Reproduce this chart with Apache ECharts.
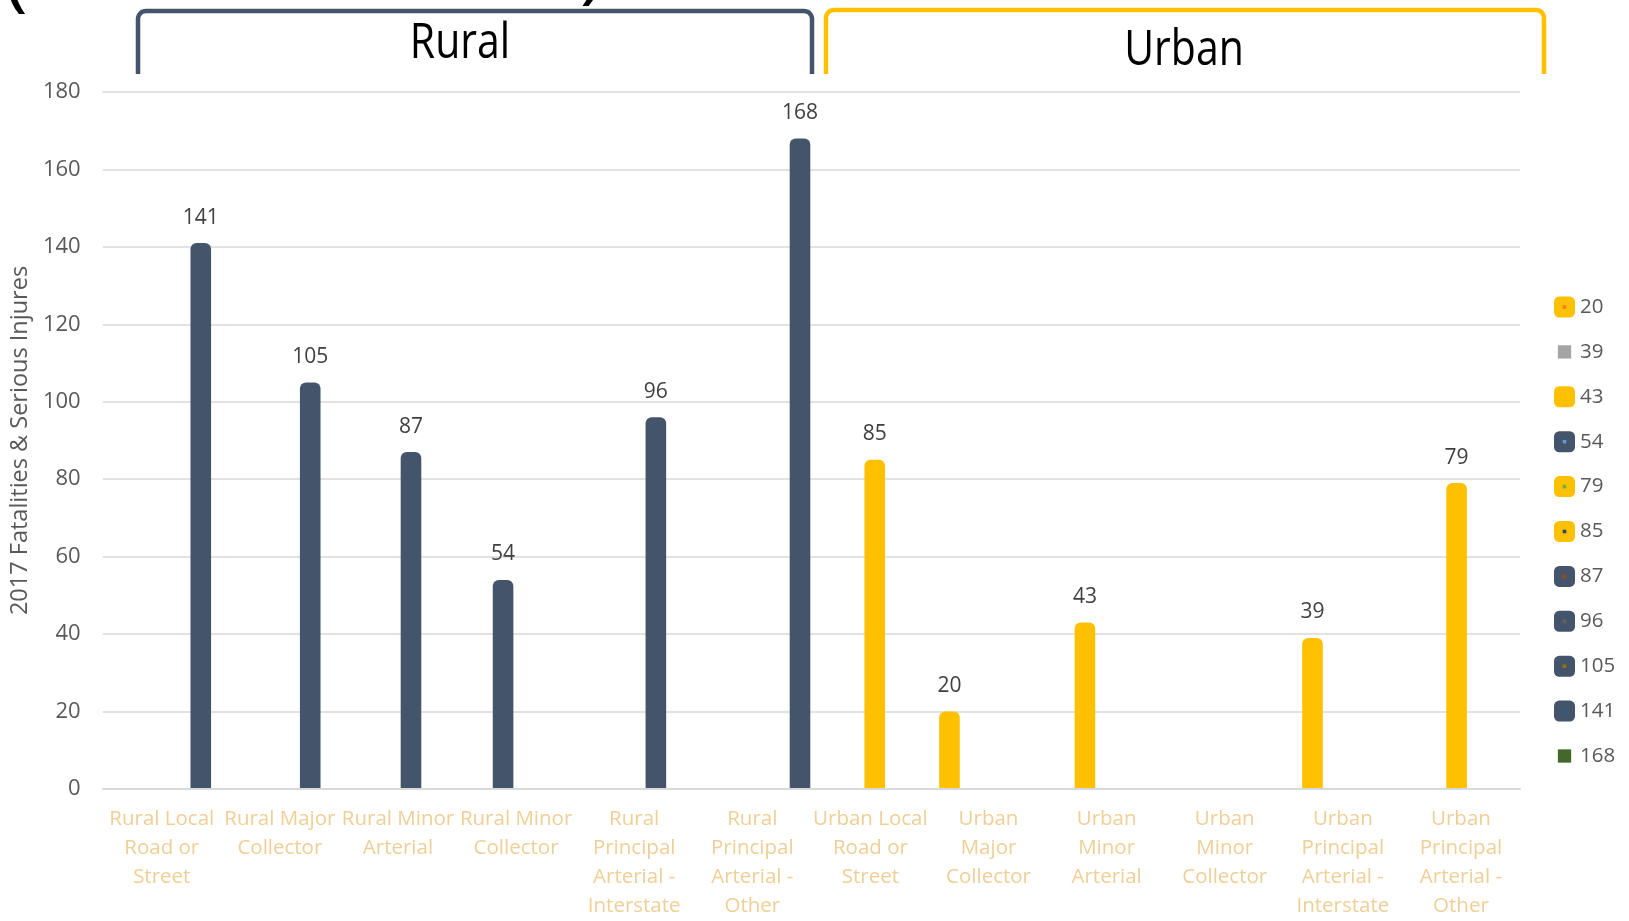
<!DOCTYPE html>
<html>
<head>
<meta charset="utf-8">
<script src="https://cdn.jsdelivr.net/npm/echarts@6/dist/echarts.min.js"></script>
<style>
  html, body { margin: 0; padding: 0; background: #ffffff; }
  #chart { width: 1629px; height: 921px; }
</style>
</head>
<body>
<div id="chart"></div>
<script>
// Road functional classes (x axis)
const categories = [
  'Rural Local Road or Street', 'Rural Major Collector', 'Rural Minor Arterial',
  'Rural Minor Collector', 'Rural Principal Arterial - Interstate', 'Rural Principal Arterial - Other',
  'Urban Local Road or Street', 'Urban Major Collector', 'Urban Minor Arterial',
  'Urban Minor Collector', 'Urban Principal Arterial - Interstate', 'Urban Principal Arterial - Other'
];
// Wrapped tick labels, one per category
const categoryLabels = [
  'Rural Local\nRoad or\nStreet', 'Rural Major\nCollector', 'Rural Minor\nArterial',
  'Rural Minor\nCollector', 'Rural\nPrincipal\nArterial -\nInterstate', 'Rural\nPrincipal\nArterial -\nOther',
  'Urban Local\nRoad or\nStreet', 'Urban\nMajor\nCollector', 'Urban\nMinor\nArterial',
  'Urban\nMinor\nCollector', 'Urban\nPrincipal\nArterial -\nInterstate', 'Urban\nPrincipal\nArterial -\nOther'
];
// Each series holds a single bar; series are named after their value
const seriesNames = ['20', '39', '43', '54', '79', '85', '87', '96', '105', '141', '168'];
const seriesValues = [20, 39, 43, 54, 79, 85, 87, 96, 105, 141, 168];
const seriesCategory = [
  'Urban Major Collector', 'Urban Principal Arterial - Interstate', 'Urban Minor Arterial',
  'Rural Minor Collector', 'Urban Principal Arterial - Other', 'Urban Local Road or Street',
  'Rural Minor Arterial', 'Rural Principal Arterial - Interstate', 'Rural Major Collector',
  'Rural Local Road or Street', 'Rural Principal Arterial - Other'
];
const yTicks = { min: 0, max: 180, interval: 20 };

const SLATE = '#44546A';
const GOLD = '#FFC000';
const FONT = "'Open Sans', sans-serif";
const barColors = [GOLD, GOLD, GOLD, SLATE, GOLD, GOLD, SLATE, SLATE, SLATE, SLATE, SLATE];
const legendIconColors = [GOLD, '#A5A5A5', GOLD, SLATE, GOLD, GOLD, SLATE, SLATE, SLATE, SLATE, '#43682B'];
const legendDotColors = ['#ED7D31', null, null, '#5B9BD5', '#70AD47', '#264478', '#9E480E', '#636363', '#997300', '#255E91', null];
const smallSquare = new Set(['39', '168']);

const BAR_W = 20.6;
const BAR_GAP = '-57.9%';

const chart = echarts.init(document.getElementById('chart'), null, { renderer: 'canvas' });

// Empty leading bar series keeps the Excel-style slot offsets inside each category
const series = [{
  name: 'slot0', type: 'bar', data: categories.map(() => null),
  barWidth: BAR_W, barGap: BAR_GAP, silent: true
}];
seriesNames.forEach((name, i) => {
  const c = barColors[i];
  series.push({
    name: name,
    type: 'bar',
    data: categories.map(cat => (cat === seriesCategory[i] ? seriesValues[i] : null)),
    barWidth: BAR_W,
    barGap: BAR_GAP,
    itemStyle: { color: c, borderRadius: [6, 6, 0, 0] },
    label: {
      show: true, position: 'top', distance: 15,
      color: '#404040', fontSize: 21, fontFamily: FONT
    },
    emphasis: { disabled: true }
  });
});

const ICON_BOX = 'M0,0M21,21';
const legendMain = seriesNames.map((name, i) => ({
  name: name,
  icon: smallSquare.has(name) ? 'path://' + ICON_BOX + 'M3.85,3.85h13.3v13.3h-13.3z' : 'roundRect',
  itemStyle: { color: legendIconColors[i], borderWidth: 0 }
}));
const legendDots = seriesNames.map((name, i) => ({
  name: name,
  icon: 'path://' + ICON_BOX + 'M8.7,8.7h3.6v3.6h-3.6z',
  itemStyle: { color: legendDotColors[i] || 'rgba(0,0,0,0)', borderWidth: 0 }
}));
const legendBase = {
  orient: 'vertical', left: 1549, top: 291.5,
  itemWidth: 21, itemHeight: 21, itemGap: 23.9,
  selectedMode: false,
  textStyle: { color: '#595959', fontSize: 20.5, fontFamily: FONT }
};

function bracketPoints(x1, x2, yTop, yBottom, r) {
  const pts = [[x1, yBottom]];
  for (let k = 0; k <= 8; k++) {
    const a = Math.PI + k * Math.PI / 16;
    pts.push([x1 + r + r * Math.cos(a), yTop + r + r * Math.sin(a)]);
  }
  for (let k = 0; k <= 8; k++) {
    const a = 1.5 * Math.PI + k * Math.PI / 16;
    pts.push([x2 - r + r * Math.cos(a), yTop + r + r * Math.sin(a)]);
  }
  pts.push([x2, yBottom]);
  return pts;
}

function titleText(text, x, y) {
  return {
    type: 'text', x: x, y: y, scaleY: 1.2,
    style: {
      text: text, x: 0, y: 0, fill: '#000000',
      font: "41px 'Open Sans', sans-serif",
      align: 'center', verticalAlign: 'middle',
      textAlign: 'center', textVerticalAlign: 'middle'
    }
  };
}

const option = {
  backgroundColor: '#ffffff',
  animation: false,
  textStyle: { fontFamily: FONT },
  grid: { left: 102.7, right: 109, top: 92, bottom: 130, containLabel: false },
  legend: [
    Object.assign({}, legendBase, { data: legendMain }),
    Object.assign({}, legendBase, { data: legendDots, textStyle: { color: 'rgba(0,0,0,0)', fontSize: 20.5, fontFamily: FONT }, z: 5 })
  ],
  xAxis: {
    type: 'category',
    data: categories,
    z: 5,
    axisLine: { show: true, lineStyle: { color: '#D9D9D9', width: 2 } },
    axisTick: { show: false },
    axisLabel: {
      interval: 0, margin: 16,
      color: '#EFCF96', fontSize: 20.5, lineHeight: 29, fontFamily: FONT,
      formatter: (v, idx) => categoryLabels[idx]
    }
  },
  yAxis: {
    type: 'value',
    min: yTicks.min, max: yTicks.max, interval: yTicks.interval,
    name: '2017 Fatalities & Serious Injures',
    nameLocation: 'middle',
    nameGap: 70,
    nameTextStyle: { color: '#595959', fontSize: 23.5, fontFamily: FONT },
    axisLine: { show: false },
    axisTick: { show: false },
    axisLabel: { color: '#595959', fontSize: 22, margin: 22, fontFamily: FONT },
    splitLine: { lineStyle: { color: '#D9D9D9', width: 1.5 } }
  },
  series: series,
  graphic: [
    {
      type: 'polyline',
      shape: { points: bracketPoints(138, 812, 11, 74, 8) },
      style: { stroke: SLATE, lineWidth: 4.5, fill: null, lineJoin: 'round' }
    },
    {
      type: 'polyline',
      shape: { points: bracketPoints(826, 1544, 10, 74, 8) },
      style: { stroke: GOLD, lineWidth: 4.5, fill: null, lineJoin: 'round' }
    },
    titleText('Rural', 460, 43.5),
    titleText('Urban', 1184, 51.4),
    {
      type: 'text', x: 4, y: 18,
      style: { text: '(', fill: '#000000', font: "80px 'Open Sans', sans-serif",
        align: 'left', verticalAlign: 'bottom', textAlign: 'left', textVerticalAlign: 'bottom' }
    },
    {
      type: 'text', x: 580, y: 10,
      style: { text: ')', fill: '#000000', font: "80px 'Open Sans', sans-serif",
        align: 'left', verticalAlign: 'bottom', textAlign: 'left', textVerticalAlign: 'bottom' }
    }
  ]
};

chart.setOption(option);
</script>
</body>
</html>
